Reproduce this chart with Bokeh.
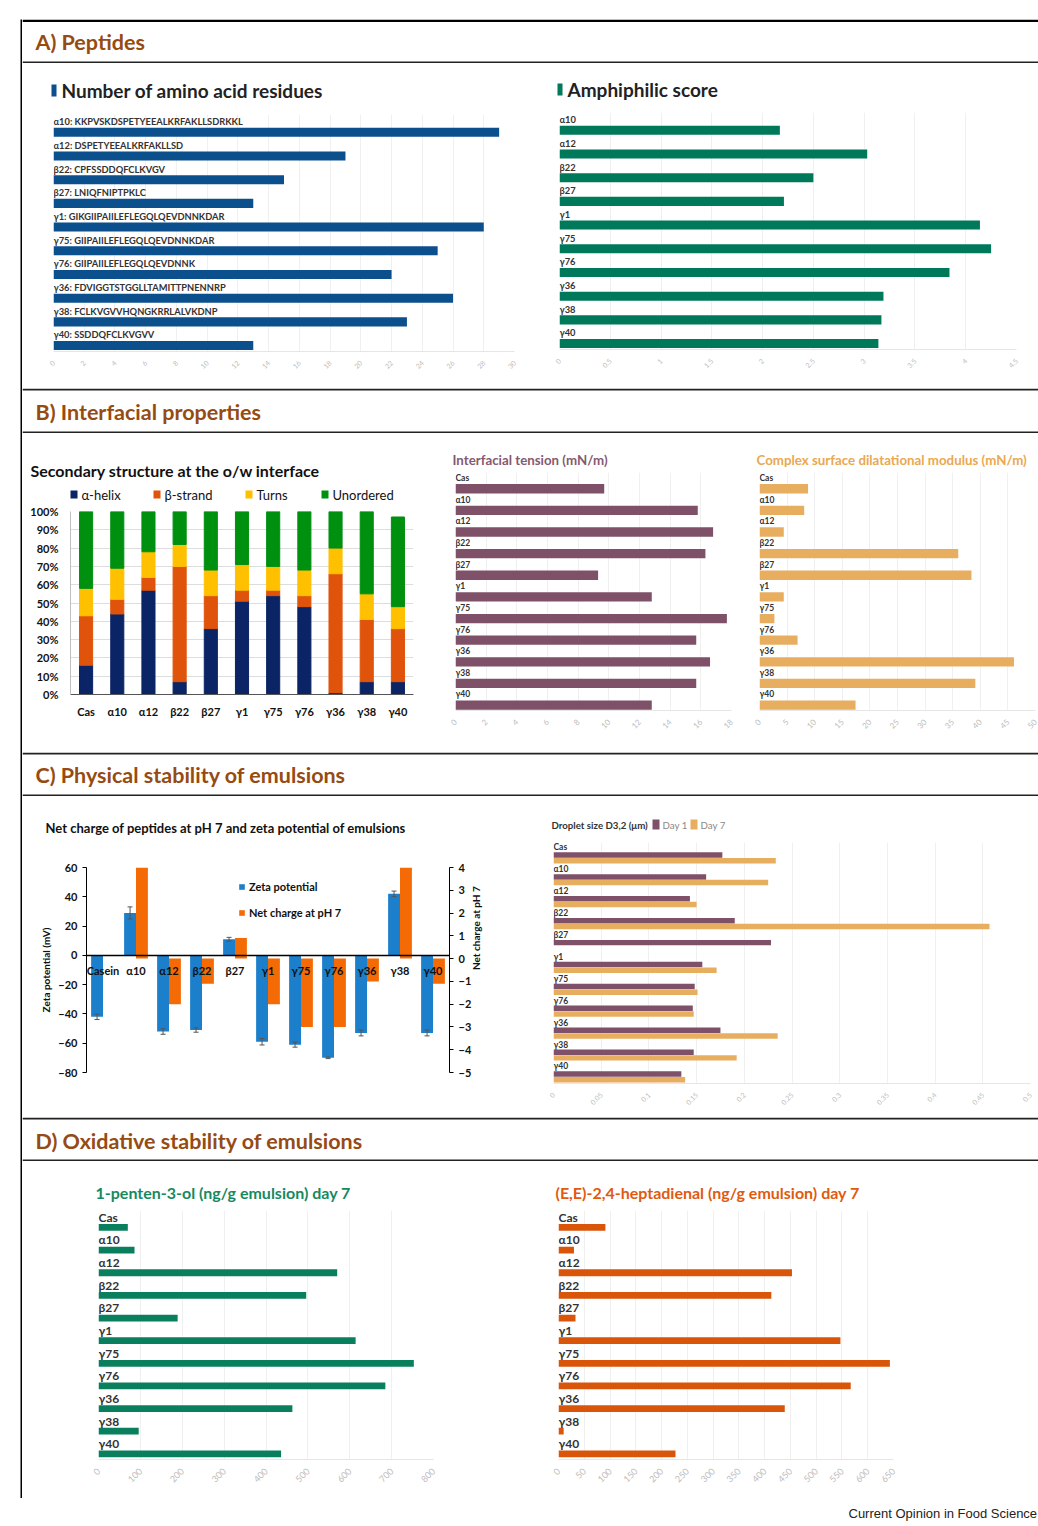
import math
from bokeh.plotting import figure
from bokeh.models import (Range1d, FactorRange, ColumnDataSource, Label, Legend, LegendItem,
                          LinearAxis, FixedTicker, NumeralTickFormatter, PrintfTickFormatter,
                          Span, Spacer, Plot)
from bokeh.transform import dodge
from bokeh.core.properties import value
from bokeh.layouts import row, column
from bokeh.embed import file_html
from bokeh.resources import INLINE

FONT = "Lato"
NAN = float("nan")

# ---------------- data ----------------
peptides = ["α10", "α12", "β22", "β27", "γ1", "γ75", "γ76", "γ36", "γ38", "γ40"]
sequences = ["KKPVSKDSPETYEEALKRFAKLLSDRKKL", "DSPETYEEALKRFAKLLSD", "CPFSSDDQFCLKVGV",
             "LNIQFNIPTPKLC", "GIKGIIPAIILEFLEGQLQEVDNNKDAR", "GIIPAIILEFLEGQLQEVDNNKDAR",
             "GIIPAIILEFLEGQLQEVDNNK", "FDVIGGTSTGGLLTAMITTPNENNRP", "FCLKVGVVHQNGKRRLALVKDNP",
             "SSDDQFCLKVGVV"]
residues = [29, 19, 15, 13, 28, 25, 22, 26, 23, 13]
amphiphilic = [2.17, 3.03, 2.50, 2.21, 4.14, 4.25, 3.84, 3.19, 3.17, 3.14]

samples = ["Cas", "α10", "α12", "β22", "β27", "γ1", "γ75", "γ76", "γ36", "γ38", "γ40"]
helix = [16, 44, 57, 7, 36, 51, 54, 48, 1, 7, 7]
strand = [27, 8, 7, 63, 18, 6, 3, 6, 65, 34, 29]
turns = [15, 17, 14, 12, 14, 14, 13, 14, 14, 14, 12]
unordered = [42, 31, 22, 18, 32, 29, 30, 32, 20, 45, 49]
structure_names = ["α-helix", "β-strand", "Turns", "Unordered"]

tension = [9.7, 15.8, 16.8, 16.3, 9.3, 12.8, 17.7, 15.7, 16.6, 15.7, 12.8]
modulus = [8.8, 8.1, 4.4, 36.0, 38.4, 4.4, 2.7, 6.9, 46.1, 39.1, 17.4]

zeta_labels = ["Casein", "α10", "α12", "β22", "β27", "γ1", "γ75", "γ76", "γ36", "γ38", "γ40"]
zeta = [-42, 29, -52, -51, 11, -59, -61, -70, -53, 42, -53]
zeta_err = [1.8, 4.1, 1.9, 1.5, 1.3, 2.2, 1.7, 0.5, 2.0, 1.9, 2.0]
net_charge = [NAN, 4, -2, -1.1, 0.9, -2, -3, -3, -1, 4, -1.1]

drop_day1 = [0.177, 0.160, 0.143, 0.190, 0.228, 0.156, 0.148, 0.146, 0.175, 0.147, 0.134]
drop_day7 = [0.233, 0.225, 0.150, 0.457, NAN, 0.171, 0.151, 0.147, 0.235, 0.192, 0.138]

pentenol = [70, 86, 570, 496, 189, 614, 753, 685, 463, 96, 436]
heptadienal = [91, 30, 453, 413, 33, 547, 643, 567, 439, 10, 227]

# tick labels
ticks_res = [0, 2, 4, 6, 8, 10, 12, 14, 16, 18, 20, 22, 24, 26, 28, 30]
ticks_amph = [0, 0.5, 1, 1.5, 2, 2.5, 3, 3.5, 4, 4.5]
ticks_pct = [0, 10, 20, 30, 40, 50, 60, 70, 80, 90, 100]
ticks_tension = [0, 2, 4, 6, 8, 10, 12, 14, 16, 18]
ticks_mod = [0, 5, 10, 15, 20, 25, 30, 35, 40, 45, 50]
ticks_zeta = [-80, -60, -40, -20, 0, 20, 40, 60]
ticks_charge = [-5, -4, -3, -2, -1, 0, 1, 2, 3, 4]
ticks_drop = [0, 0.05, 0.1, 0.15, 0.2, 0.25, 0.3, 0.35, 0.4, 0.45, 0.5]
ticks_pent = [0, 100, 200, 300, 400, 500, 600, 700, 800]
ticks_hept = [0, 50, 100, 150, 200, 250, 300, 350, 400, 450, 500, 550, 600, 650]

# ---------------- colours ----------------
BLUE_A = "#0B4F8C"
GREEN_A = "#00795A"
C_HELIX, C_STRAND, C_TURNS, C_UNORD = "#0B2466", "#E0530B", "#FFC000", "#009010"
STRUCT_COLORS = [C_HELIX, C_STRAND, C_TURNS, C_UNORD]
MAUVE = "#7E5169"
TAN = "#E8AE60"
Z_BLUE = "#1C7FCB"
Z_ORANGE = "#F46A05"
GREEN_D = "#0A7F5D"
ORANGE_D = "#D9550A"
BROWN = "#964B12"

HAS_FRAME_ALIGN = "frame_align" in Plot.properties()


def base_fig(width, height, **kw):
    p = figure(width=width, height=height, toolbar_location=None, output_backend="svg", **kw)
    p.outline_line_color = None
    if HAS_FRAME_ALIGN:
        p.frame_align = False
    return p


def plain_fig(width, height):
    p = base_fig(width, height, min_border=0, x_axis_location=None, y_axis_location=None,
                 x_range=Range1d(0, width), y_range=Range1d(0, height))
    p.grid.visible = False
    return p


def solid(width, height, color):
    p = plain_fig(width, height)
    p.background_fill_color = color
    p.border_fill_color = color
    return p


def put(p, text, x, y_top, size, color, bold=True, align="left", font=FONT):
    """text at x px from the left and y_top px from the top of a plain figure"""
    p.add_layout(Label(x=x, y=p.height - y_top, text=text, text_font=font, text_font_size=size,
                       text_font_style="bold" if bold else "normal", text_color=color,
                       text_align=align, text_baseline="middle"))


def key(p, names, colors, xs, y_top, sw, sh, gap, size, color, bold):
    """legend keys: coloured swatch followed by its name"""
    p.rect(x=[x + sw / 2 for x in xs], y=[p.height - y_top] * len(xs), width=sw, height=sh,
           fill_color=colors, line_color=None)
    for n, x in zip(names, xs):
        put(p, n, x + sw + gap, y_top, size, color, bold=bold)


def header(text, h, ty, top_color, top_w):
    p = plain_fig(1016, h)
    p.add_layout(Span(location=h - top_w / 2, dimension="width", line_color=top_color,
                      line_width=top_w))
    p.add_layout(Span(location=1, dimension="width", line_color="#222222", line_width=2))
    put(p, text, 13, ty, "21.5px", BROWN)
    return p


def make_legend(items, loc, orientation, gw, gh, size, color="#222222", bold=True,
                spacing=10, standoff=5, lh=14):
    return Legend(items=items, location=loc, orientation=orientation, glyph_width=gw,
                  glyph_height=gh, label_text_font=FONT, label_text_font_size=size,
                  label_text_font_style="bold" if bold else "normal", label_text_color=color,
                  spacing=spacing, label_standoff=standoff, label_height=lh, padding=0, margin=0,
                  border_line_color=None, background_fill_alpha=0)


def hbar_fig(width, height, mbl, mbr, mbt, mbb, cats, labels, series, xmax, ticks, fmt,
             bar_h, bar_dodges, label_dodge, label_size, tick_size):
    p = base_fig(width, height, x_range=Range1d(0, xmax), y_range=FactorRange(factors=cats[::-1]),
                 y_axis_location=None, min_border_left=mbl, min_border_right=mbr,
                 min_border_top=mbt, min_border_bottom=mbb)
    data = dict(cat=cats, label=labels)
    for i, (vals, _c) in enumerate(series):
        data["v%d" % i] = vals
    src = ColumnDataSource(data)
    for i, ((vals, col), d) in enumerate(zip(series, bar_dodges)):
        p.hbar(y=dodge("cat", d, range=p.y_range), left=0, right="v%d" % i, height=bar_h,
               fill_color=col, line_color=None, source=src)
    p.text(x=0, y=dodge("cat", label_dodge, range=p.y_range), text="label", source=src,
           text_font=value(FONT), text_font_size=label_size, text_font_style="bold",
           text_color="#333333", text_align="left", text_baseline="middle")
    ax = p.xaxis[0]
    ax.ticker = FixedTicker(ticks=ticks)
    ax.formatter = NumeralTickFormatter(format=fmt)
    ax.major_label_orientation = math.pi / 4
    ax.axis_line_color = "#e6e6e6"
    ax.major_tick_line_color = None
    ax.minor_tick_line_color = None
    ax.major_label_text_color = "#bdbdbd"
    ax.major_label_text_font = FONT
    ax.major_label_text_font_size = tick_size
    ax.major_label_standoff = 4
    p.xgrid.ticker = FixedTicker(ticks=ticks)
    p.xgrid.grid_line_color = "#f0f0f0"
    p.ygrid.visible = False
    return p


# ---------------- A) Peptides ----------------
tA1 = plain_fig(518, 51)
key(tA1, ["Number of amino acid residues"], [BLUE_A], [29], 27, 5, 12, 5, "19px", "#222222", True)
pA1 = hbar_fig(518, 274, 31, 26, 0, 37, peptides,
               ["%s: %s" % (c, s) for c, s in zip(peptides, sequences)],
               [(residues, BLUE_A)], 30, ticks_res, "0", 0.38, [-0.25], 0.2, "9.3px", "7px")

tA2 = plain_fig(498, 49)
key(tA2, ["Amphiphilic score"], [GREEN_A], [17], 26, 5, 12, 5, "19px", "#222222", True)
pA2 = hbar_fig(498, 276, 19, 22, 0, 39, peptides, peptides, [(amphiphilic, GREEN_A)],
               4.5, ticks_amph, "0.[0]", 0.38, [-0.25], 0.2, "9.3px", "7px")

# ---------------- B) Interfacial properties ----------------
tB1 = plain_fig(418, 70)
put(tB1, "Secondary structure  at the o/w interface", 8, 37, "16px", "#111111")
key(tB1, structure_names, STRUCT_COLORS, [48, 131, 223, 299], 61, 7, 8, 4, "13px", "#111111",
    False)

pB1 = base_fig(418, 249, x_range=FactorRange(factors=samples), y_range=Range1d(0, 100),
               min_border_left=48, min_border_right=27, min_border_top=8, min_border_bottom=58)
srcB = ColumnDataSource(dict(cat=samples, helix=helix, strand=strand, turns=turns,
                             unordered=unordered))
pB1.vbar_stack(["helix", "strand", "turns", "unordered"], x="cat", width=0.42,
               color=STRUCT_COLORS, source=srcB)
pB1.xgrid.visible = False
pB1.ygrid.ticker = FixedTicker(ticks=ticks_pct)
pB1.ygrid.grid_line_color = "#dddddd"
yb = pB1.yaxis[0]
yb.ticker = FixedTicker(ticks=ticks_pct)
yb.formatter = PrintfTickFormatter(format="%d%%")
yb.axis_line_color = "#bfbfbf"
yb.major_tick_line_color = None
yb.minor_tick_line_color = None
yb.major_label_standoff = 6
xb = pB1.xaxis[0]
xb.axis_line_color = "#555555"
xb.major_tick_line_color = None
xb.major_label_standoff = 4
for a in (xb, yb):
    a.major_label_text_font = FONT
    a.major_label_text_font_size = "11px"
    a.major_label_text_font_style = "bold"
    a.major_label_text_color = "#111111"

tB2 = plain_fig(305, 39)
put(tB2, "Interfacial tension (mN/m)", 12, 26, "13.3px", "#86596F")
pB2 = hbar_fig(305, 280, 15, 14, 0, 42, samples, samples, [(tension, MAUVE)], 18,
               ticks_tension, "0", 0.43, [-0.25], 0.24, "8.5px", "8px")

tB3 = plain_fig(293, 39)
put(tB3, "Complex surface dilatational modulus (mN/m)", 11, 26, "13.3px", "#EAA84F")
pB3 = hbar_fig(293, 280, 14, 3, 0, 42, samples, samples, [(modulus, TAN)], 50,
               ticks_mod, "0", 0.43, [-0.25], 0.24, "8.5px", "8px")

# ---------------- C) Physical stability ----------------
tC1 = plain_fig(518, 63)
put(tC1, "Net charge of peptides at pH 7 and zeta potential of emulsions", 23, 31, "13px",
    "#111111")

pC1 = base_fig(518, 258, x_range=FactorRange(factors=zeta_labels), y_range=Range1d(-80, 60),
               min_border_left=64, min_border_right=91, min_border_top=8, min_border_bottom=45)
pC1.extra_y_ranges = {"charge": Range1d(-5, 4)}
srcC = ColumnDataSource(dict(cat=zeta_labels, zeta=zeta, net=net_charge,
                             lo=[z - e for z, e in zip(zeta, zeta_err)],
                             hi=[z + e for z, e in zip(zeta, zeta_err)]))
rz = pC1.vbar(x=dodge("cat", -0.18, range=pC1.x_range), top="zeta", bottom=0, width=0.36,
              fill_color=Z_BLUE, line_color=None, source=srcC)
rn = pC1.vbar(x=dodge("cat", 0.18, range=pC1.x_range), top="net", bottom=0, width=0.36,
              fill_color=Z_ORANGE, line_color=None, source=srcC, y_range_name="charge")
pC1.segment(x0=dodge("cat", -0.18, range=pC1.x_range), y0="lo",
            x1=dodge("cat", -0.18, range=pC1.x_range), y1="hi", line_color="#555555",
            line_width=1, source=srcC)
for col in ("lo", "hi"):
    pC1.scatter(x=dodge("cat", -0.18, range=pC1.x_range), y=col, marker="dash", size=5,
                line_color="#555555", source=srcC)
pC1.grid.visible = False
xc = pC1.xaxis[0]
xc.fixed_location = 0
xc.axis_line_color = "#000000"
xc.axis_line_width = 1.5
xc.major_tick_line_color = None
xc.major_label_standoff = 3
xc.major_label_text_font = FONT
xc.major_label_text_font_size = "11px"
xc.major_label_text_font_style = "bold"
xc.major_label_text_color = "#111111"
yc = pC1.yaxis[0]
yc.ticker = FixedTicker(ticks=ticks_zeta)
yc.axis_label = "Zeta potential (mV)"
yc.axis_label_standoff = 3
right_ax = LinearAxis(y_range_name="charge", ticker=FixedTicker(ticks=ticks_charge),
                      axis_label="Net charge at pH 7", axis_label_standoff=2)
if "axis_label_orientation" in LinearAxis.properties():
    right_ax.axis_label_orientation = math.pi / 2
pC1.add_layout(right_ax, "right")
for a in (yc, right_ax):
    a.axis_line_color = "#000000"
    a.major_tick_line_color = "#000000"
    a.major_tick_out = 4
    a.major_tick_in = 0
    a.minor_tick_line_color = None
    a.major_label_standoff = 5
    a.major_label_text_font = FONT
    a.major_label_text_font_size = "11px"
    a.major_label_text_font_style = "bold"
    a.major_label_text_color = "#111111"
    a.axis_label_text_font = FONT
    a.axis_label_text_font_size = "10px"
    a.axis_label_text_font_style = "bold"
    a.axis_label_text_color = "#111111"
pC1.add_layout(make_legend([LegendItem(label="Zeta potential", renderers=[rz]),
                            LegendItem(label="Net charge at pH 7", renderers=[rn])],
                           (152, 153), "vertical", 7, 7, "11px", "#111111", True, 13, 4, 13))

tC2 = plain_fig(498, 46)
put(tC2, "Droplet size D3,2 (μm)", 11, 28, "9.7px", "#333333")
key(tC2, ["Day 1", "Day 7"], [MAUVE, TAN], [112, 150], 28, 7, 10, 3, "9.7px", "#888888", False)
pC2 = hbar_fig(498, 275, 13, 8, 0, 34, samples, samples,
               [(drop_day1, MAUVE), (drop_day7, TAN)], 0.5, ticks_drop, "0.[00]", 0.25,
               [-0.07, -0.33], 0.28, "8.5px", "7px")

# ---------------- D) Oxidative stability ----------------
tD1 = plain_fig(518, 49)
put(tD1, "1-penten-3-ol (ng/g emulsion) day 7", 73, 31, "16px", "#17895F")
pD1 = hbar_fig(518, 286, 76, 107, 0, 37, samples, samples, [(pentenol, GREEN_D)], 800,
               ticks_pent, "0", 0.3, [-0.25], 0.2, "12px", "9px")
tD2 = plain_fig(498, 49)
put(tD2, "(E,E)-2,4-heptadienal (ng/g emulsion) day 7", 15, 31, "16px", "#E05A10")
pD2 = hbar_fig(498, 286, 18, 145, 0, 37, samples, samples, [(heptadienal, ORANGE_D)], 650,
               ticks_hept, "0", 0.3, [-0.25], 0.2, "12px", "9px")

# ---------------- page assembly ----------------
hA = header("A) Peptides", 44, 22, "#000000", 2.5)
hB = header("B) Interfacial properties", 45, 23, "#222222", 2)
hC = header("C) Physical stability of emulsions", 44, 22, "#222222", 2)
hD = header("D) Oxidative stability of emulsions", 44, 23, "#222222", 2)
bottom_line = solid(1016, 2, "#000000")
vline = solid(2, 1479, "#000000")

footer = plain_fig(1038, 24)
put(footer, "Current Opinion in Food Science", 848, 15, "13px", "#222222", bold=False,
    font="Liberation Sans")

rowA = row(column(tA1, pA1), column(tA2, pA2))
rowB = row(column(tB1, pB1), column(tB2, pB2), column(tB3, pB3))
rowC = row(column(tC1, pC1), column(tC2, pC2))
rowD = row(column(tD1, pD1), column(tD2, pD2))
body = column(hA, rowA, hB, rowB, hC, rowC, hD, rowD, bottom_line)
page = column(Spacer(width=1038, height=19),
              row(Spacer(width=20, height=1479), vline, body),
              footer)

open("out.html", "w").write(file_html(page, INLINE))
